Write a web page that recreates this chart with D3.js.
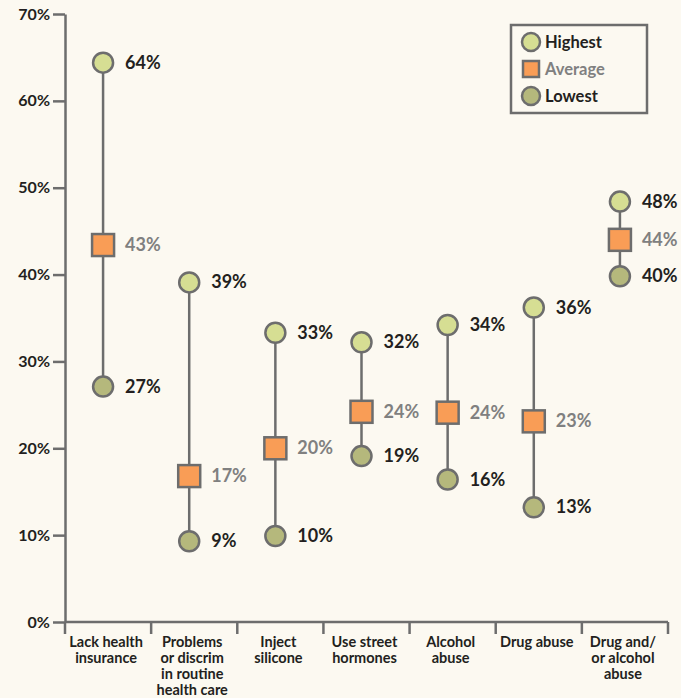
<!DOCTYPE html>
<html>
<head>
<meta charset="utf-8">
<script src="https://cdn.jsdelivr.net/npm/d3@7"></script>
<style>
  body { margin: 0; background: #fcf9f1; }
  text { font-family: Lato, "Open Sans", sans-serif; font-weight: bold; }
</style>
</head>
<body>
<div id="chart"></div>
<script>
const categories = [
  ['Lack health', 'insurance'],
  ['Problems', 'or discrim', 'in routine', 'health care'],
  ['Inject', 'silicone'],
  ['Use street', 'hormones'],
  ['Alcohol', 'abuse'],
  ['Drug abuse'],
  ['Drug and/', 'or alcohol', 'abuse']
];
const highest = [64.4, 39.1, 33.3, 32.2, 34.2, 36.2, 48.4];
const average = [43.4, 16.8, 20.0, 24.2, 24.1, 23.1, 44.0];
const lowest = [27.1, 9.3, 9.9, 19.1, 16.4, 13.2, 39.8];
const yTicks = [0, 10, 20, 30, 40, 50, 60, 70];
const legendItems = ['Highest', 'Average', 'Lowest'];

const width = 681, height = 698;
const stroke = '#6d6d6d';
const colHigh = '#d6de93', colLow = '#b5b87c', colAvg = '#f99d56';
const textDark = '#231f20', textGray = '#808080';

const svg = d3.select('#chart').append('svg')
  .attr('width', width)
  .attr('height', height);

svg.append('rect').attr('width', width).attr('height', height).attr('fill', '#fcf9f1');

const y = d3.scaleLinear().domain([0, 70]).range([622, 14]);
const x = d3.scaleBand().domain(d3.range(categories.length)).range([65, 668]).padding(0);
const cx = i => x(i) + x.bandwidth() / 2 - 5;

// y axis
const yAxis = svg.append('g').attr('transform', 'translate(65,0)')
  .call(d3.axisLeft(y).tickValues(yTicks).tickFormat(d => d + '%').tickSize(12).tickSizeOuter(0));
yAxis.select('.domain').attr('stroke', stroke).attr('stroke-width', 2.5);
yAxis.selectAll('.tick line').attr('stroke', stroke).attr('stroke-width', 2.5);
yAxis.selectAll('.tick text').attr('x', -15).attr('font-size', 16).attr('fill', textDark)
  .style('font-family', 'Lato, sans-serif').style('font-weight', 'bold');

// x axis
const xAxis = svg.append('g').attr('transform', 'translate(0,622)');
xAxis.append('line').attr('x1', 65).attr('x2', 668).attr('stroke', stroke).attr('stroke-width', 2.5);
xAxis.selectAll('line.tk')
  .data(d3.range(categories.length + 1))
  .enter().append('line')
  .attr('class', 'tk')
  .attr('x1', i => 65 + i * x.bandwidth())
  .attr('x2', i => 65 + i * x.bandwidth())
  .attr('y1', 0).attr('y2', 12)
  .attr('stroke', stroke).attr('stroke-width', 2.5);

const xl = svg.selectAll('text.xl')
  .data(categories)
  .enter().append('text')
  .attr('class', 'xl')
  .attr('text-anchor', 'middle')
  .attr('font-size', 14.5)
  .attr('fill', textDark)
  .attr('transform', (d, i) => `translate(${x(i) + x.bandwidth() / 2 - 2},647)`);
xl.selectAll('tspan')
  .data(d => d)
  .enter().append('tspan')
  .attr('x', 0)
  .attr('y', (d, j) => j * 16)
  .text(d => d);

// range lines
svg.selectAll('line.range')
  .data(categories)
  .enter().append('line')
  .attr('class', 'range')
  .attr('x1', (d, i) => cx(i)).attr('x2', (d, i) => cx(i))
  .attr('y1', (d, i) => y(highest[i])).attr('y2', (d, i) => y(lowest[i]))
  .attr('stroke', stroke).attr('stroke-width', 2.5);

const drawCircles = (vals, fill, cls) => {
  svg.selectAll('circle.' + cls)
    .data(vals)
    .enter().append('circle')
    .attr('class', cls)
    .attr('cx', (d, i) => cx(i))
    .attr('cy', d => y(d))
    .attr('r', 10)
    .attr('fill', fill)
    .attr('stroke', stroke)
    .attr('stroke-width', 2.5);
  svg.selectAll('text.' + cls)
    .data(vals)
    .enter().append('text')
    .attr('class', cls)
    .attr('x', (d, i) => cx(i) + 22)
    .attr('y', d => y(d) + 6)
    .attr('font-size', 18)
    .attr('fill', textDark)
    .text(d => Math.round(d) + '%');
};
drawCircles(highest, colHigh, 'hi');
drawCircles(lowest, colLow, 'lo');

svg.selectAll('rect.avg')
  .data(average)
  .enter().append('rect')
  .attr('class', 'avg')
  .attr('x', (d, i) => cx(i) - 11)
  .attr('y', d => y(d) - 11)
  .attr('width', 22).attr('height', 22)
  .attr('fill', colAvg)
  .attr('stroke', stroke)
  .attr('stroke-width', 2.5);
svg.selectAll('text.avg')
  .data(average)
  .enter().append('text')
  .attr('class', 'avg')
  .attr('x', (d, i) => cx(i) + 22)
  .attr('y', d => y(d) + 6)
  .attr('font-size', 18)
  .attr('fill', textGray)
  .text(d => Math.round(d) + '%');

// legend
const legend = svg.append('g').attr('transform', 'translate(511,25)');
legend.append('rect').attr('width', 136).attr('height', 88)
  .attr('fill', '#fcf9f1').attr('stroke', stroke).attr('stroke-width', 2.5);
legendItems.forEach((name, i) => {
  const gy = 17 + i * 27;
  if (i === 1) {
    legend.append('rect').attr('x', 12).attr('y', gy - 8).attr('width', 16).attr('height', 16)
      .attr('fill', colAvg).attr('stroke', stroke).attr('stroke-width', 2.5);
  } else {
    legend.append('circle').attr('cx', 20).attr('cy', gy).attr('r', 9)
      .attr('fill', i === 0 ? colHigh : colLow).attr('stroke', stroke).attr('stroke-width', 2.5);
  }
  legend.append('text').attr('x', 34).attr('y', gy + 6)
    .attr('font-size', 16.5)
    .attr('fill', i === 1 ? textGray : textDark)
    .text(name);
});
</script>
</body>
</html>
